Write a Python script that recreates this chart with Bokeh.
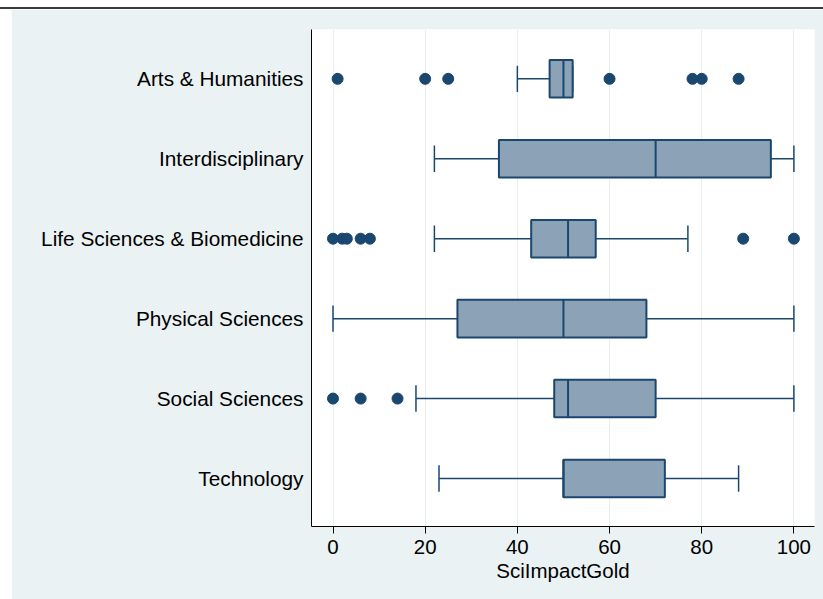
from bokeh.plotting import figure
from bokeh.models import Range1d, FixedTicker, ColumnDataSource
from bokeh.embed import file_html
from bokeh.resources import INLINE

# ---- data ----
categories = ["Arts & Humanities", "Interdisciplinary", "Life Sciences & Biomedicine",
              "Physical Sciences", "Social Sciences", "Technology"]
whisker_low = [40, 22, 22, 0, 18, 23]
q1 = [47, 36, 43, 27, 48, 50]
median = [50, 70, 51, 50, 51, 50]
q3 = [52, 95, 57, 68, 70, 72]
whisker_high = [52, 100, 77, 100, 100, 88]
outlier_category = (["Arts & Humanities"] * 7 + ["Life Sciences & Biomedicine"] * 7
                    + ["Social Sciences"] * 3)
outlier_value = [1, 20, 25, 60, 78, 80, 88,
                 0, 2, 3, 6, 8, 89, 100,
                 0, 6, 14]
x_ticks = [0, 20, 40, 60, 80, 100]
x_title = "SciImpactGold"

# ---- style ----
NAVY = "#1A476F"
FILL = "#8CA3B7"
BG = "#EAF2F3"
FONT = "Liberation Sans"
FS = "20.5px"
FS_CAT = "20.8px"
BOX_H = 0.47
CAP_H = 0.33

n = len(categories)
pos = {c: n - 1 - i for i, c in enumerate(categories)}
ys = [pos[c] for c in categories]

src = ColumnDataSource(dict(
    y=ys, lw=whisker_low, q1=q1, med=median, q3=q3, hw=whisker_high,
    bx=[(a + b) / 2 for a, b in zip(q1, q3)], bw=[b - a for a, b in zip(q1, q3)],
    cap_y0=[y - CAP_H / 2 for y in ys], cap_y1=[y + CAP_H / 2 for y in ys],
    med_y0=[y - BOX_H / 2 for y in ys], med_y1=[y + BOX_H / 2 for y in ys],
))
osrc = ColumnDataSource(dict(x=outlier_value, y=[pos[c] for c in outlier_category]))

p = figure(width=812, height=590, output_backend="svg", toolbar_location=None,
           x_range=Range1d(-4.665, 104.47), y_range=Range1d(-0.6005, 5.617),
           min_border_left=300, min_border_right=9, min_border_top=20, min_border_bottom=73)
p.margin = (9, 0, 0, 11)
p.styles = {"box-shadow": "0 -2px 0 0 #3a3a3a, -11px 0 0 0 #ffffff, -11px -2px 0 0 #3a3a3a"}

p.background_fill_color = "white"
p.border_fill_color = BG
p.outline_line_color = None

# whiskers
p.segment(x0="lw", y0="y", x1="q1", y1="y", source=src, line_color=NAVY, line_width=1.5)
p.segment(x0="q3", y0="y", x1="hw", y1="y", source=src, line_color=NAVY, line_width=1.5)
p.segment(x0="lw", y0="cap_y0", x1="lw", y1="cap_y1", source=src, line_color=NAVY, line_width=1.5)
p.segment(x0="hw", y0="cap_y0", x1="hw", y1="cap_y1", source=src, line_color=NAVY, line_width=1.5)
# boxes
p.rect(x="bx", y="y", width="bw", height=BOX_H, source=src, fill_color=FILL,
       line_color=NAVY, line_width=2)
p.segment(x0="med", y0="med_y0", x1="med", y1="med_y1", source=src, line_color=NAVY, line_width=2)
# outliers
p.scatter(x="x", y="y", source=osrc, size=11, fill_color=NAVY, line_color=NAVY)

# axes
p.xaxis.ticker = FixedTicker(ticks=x_ticks)
p.xaxis.axis_label = x_title
p.xaxis.axis_label_text_font = FONT
p.xaxis.axis_label_text_font_size = FS
p.xaxis.axis_label_text_font_style = "normal"
p.xaxis.axis_label_text_color = "black"
p.xaxis.axis_label_standoff = 2
p.xaxis.major_label_text_font = FONT
p.xaxis.major_label_text_font_size = FS
p.xaxis.major_label_text_color = "black"
p.xaxis.major_label_standoff = 6
p.xaxis.major_tick_out = 7
p.xaxis.major_tick_in = 0
p.xaxis.minor_tick_line_color = None
p.xaxis.axis_line_color = "black"
p.xaxis.major_tick_line_color = "black"

p.yaxis.ticker = FixedTicker(ticks=ys)
p.yaxis.major_label_overrides = {pos[c]: c for c in categories}
p.yaxis.major_label_text_font = FONT
p.yaxis.major_label_text_font_size = FS_CAT
p.yaxis.major_label_text_color = "black"
p.yaxis.major_label_standoff = 8
p.yaxis.major_tick_line_color = None
p.yaxis.minor_tick_line_color = None
p.yaxis.major_tick_out = 0
p.yaxis.axis_line_color = "black"

p.xgrid.ticker = FixedTicker(ticks=x_ticks)
p.xgrid.grid_line_color = "#E6EEF0"
p.xgrid.grid_line_width = 1
p.ygrid.grid_line_color = None

open("out.html", "w").write(file_html(p, INLINE))
